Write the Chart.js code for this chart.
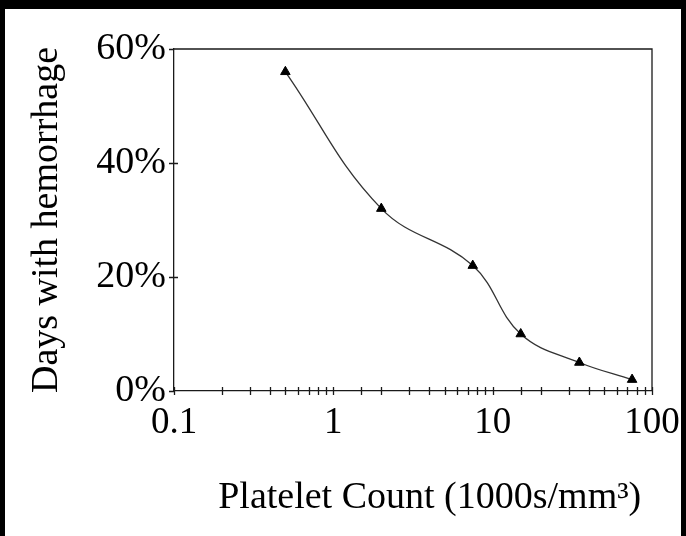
<!DOCTYPE html>
<html><head><meta charset="utf-8">
<script src="https://cdn.jsdelivr.net/npm/chart.js@4"></script>
<style>
html,body{margin:0;padding:0;background:#fff;width:686px;height:536px;overflow:hidden}
#box{position:absolute;left:5px;top:9px;width:677px;height:527px;background:#fff}
.edge{position:absolute;background:#000;z-index:5}
#eTop{left:0;top:0;width:686px;height:9px}
#eLeft{left:0;top:0;width:5px;height:536px}
#eRight{left:681px;top:0;width:5px;height:536px}
#foot{position:absolute;left:0;top:522px;width:686px;height:14px;background:#fff;z-index:4}
canvas{display:block}
</style></head><body>
<div id="box"><canvas id="c" width="677" height="527"></canvas></div>
<div id="foot"></div>
<div class="edge" id="eTop"></div><div class="edge" id="eLeft"></div><div class="edge" id="eRight"></div>
<script>
const plateletCounts = [0.5, 2, 7.5, 15, 35, 75];
const hemorrhagePct = [56, 32, 22, 10, 5, 2];
const xTickLabels = [0.1, 1, 10, 100];
const yTickValues = [0, 20, 40, 60];
const xTitle = 'Platelet Count (1000s/mm³)';
const yTitle = 'Days with hemorrhage';

const FONT = '"Liberation Serif", "Times New Roman", serif';
const INK = '#1a1a1a';

const points = plateletCounts.map((v, i) => ({x: v, y: hemorrhagePct[i]}));

const framePlugin = {
  id: 'frame',
  beforeDatasetsDraw(chart) {
    const {ctx, chartArea: a, scales: {x, y}} = chart;
    ctx.save();
    ctx.strokeStyle = INK;
    ctx.lineWidth = 1.3;
    ctx.beginPath();
    ctx.moveTo(a.left, a.top); ctx.lineTo(a.right, a.top); ctx.lineTo(a.right, a.bottom);
    x.ticks.forEach((t, i) => {
      const px = Math.round(x.getPixelForTick(i)) + 0.5;
      ctx.moveTo(px, a.bottom - 4); ctx.lineTo(px, a.bottom + 4);
    });
    y.ticks.forEach((t, i) => {
      const py = Math.round(y.getPixelForTick(i)) + 0.5;
      ctx.moveTo(a.left - 5, py); ctx.lineTo(t.value === 0 || t.value === 60 ? a.left : a.left + 4, py);
    });
    ctx.stroke();
    ctx.restore();
  },
  afterDraw(chart) {
    const {ctx, chartArea: a} = chart;
    ctx.save();
    ctx.fillStyle = '#000';
    ctx.font = '38px ' + FONT;
    ctx.textAlign = 'center';
    ctx.textBaseline = 'alphabetic';
    ctx.fillText(xTitle, a.left + (a.right - a.left) * 0.535, 499);
    ctx.restore();
  }
};

new Chart(document.getElementById('c'), {
  type: 'line',
  data: {
    datasets: [{
      data: points,
      borderColor: '#333',
      borderWidth: 1.3,
      tension: 0.4,
      pointStyle: 'triangle',
      pointRadius: 5.5,
      pointBorderWidth: 1,
      pointBackgroundColor: '#000',
      pointBorderColor: '#000',
      clip: false
    }]
  },
  options: {
    responsive: false,
    animation: false,
    devicePixelRatio: 1,
    layout: {padding: {left: 0, top: 40, right: 30, bottom: 0}},
    plugins: {legend: {display: false}, tooltip: {enabled: false}, title: {display: false}},
    scales: {
      x: {
        type: 'logarithmic',
        min: 0.1, max: 100,
        grid: {display: false, tickLength: 8},
        border: {display: true, color: INK, width: 1.3},
        ticks: {
          autoSkip: false, maxRotation: 0, padding: 2,
          color: '#000', font: {family: FONT, size: 37},
          callback: (v) => {
            const m = xTickLabels.find(t => Math.abs(Math.log10(t) - Math.log10(v)) < 1e-6);
            return m === undefined ? '' : String(m);
          }
        },
        afterFit: (s) => { s.height = 145; s.paddingLeft = 0; s.paddingRight = 0; }
      },
      y: {
        min: 0, max: 60,
        grid: {display: false, tickLength: 8},
        border: {display: true, color: INK, width: 1.3},
        ticks: {
          stepSize: 20, padding: 0,
          color: '#000', font: {family: FONT, size: 38},
          callback: (v) => yTickValues.includes(v) ? v + '%' : ''
        },
        title: {display: true, text: yTitle, color: '#000', font: {family: FONT, size: 38}, padding: {top: 19, bottom: 0}},
        afterFit: (s) => { s.width = 169; s.paddingTop = 0; s.paddingBottom = 0; }
      }
    }
  },
  plugins: [framePlugin]
});
</script>
</body></html>
